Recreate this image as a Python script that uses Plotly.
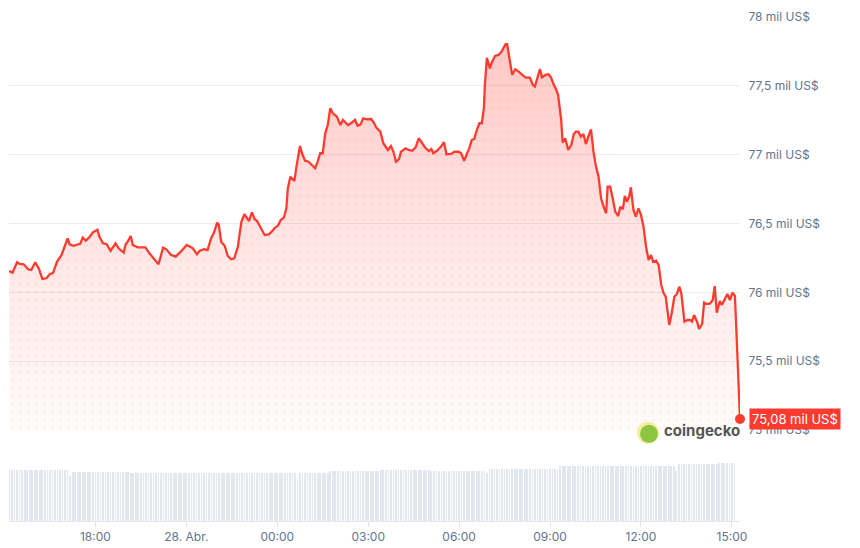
import plotly.graph_objects as go
from datetime import datetime, timedelta

BASE = datetime(2025, 4, 27, 15, 0)

# price: minutes after 27 Apr 15:00, value in US$
price_minutes = [
    9, 16, 25, 30, 38, 47, 53, 61, 68, 75, 83, 90, 96, 104, 113, 119, 125, 129, 137, 146,
    150, 155, 161, 169, 175, 184, 188, 195, 202, 210, 220, 226, 236, 240, 244, 250, 254, 264, 279, 287,
    297, 305, 314, 320, 330, 339, 347, 355, 361, 373, 381, 386, 395, 402, 409, 415, 421, 424, 429, 436,
    442, 449, 455, 462, 469, 475, 484, 490, 495, 500, 507, 515, 523, 529, 536, 541, 547, 553, 558, 561,
    566, 574, 578, 585, 589, 595, 602, 608, 615, 620, 625, 630, 635, 640, 645, 650, 658, 665, 670, 680,
    686, 694, 699, 705, 710, 718, 726, 732, 736, 744, 750, 759, 765, 770, 775, 781, 785, 794, 800, 807,
    814, 820, 827, 833, 840, 845, 849, 856, 863, 870, 875, 884, 891, 899, 904, 910, 916, 920, 925, 930,
    935, 940, 945, 949, 951, 955, 961, 964, 971, 978, 984, 988, 992, 995, 1000, 1005, 1011, 1018, 1025, 1032,
    1040, 1046, 1050, 1055, 1060, 1064, 1071, 1077, 1082, 1087, 1092, 1096, 1098, 1102, 1105, 1110, 1116, 1122, 1127, 1131,
    1136, 1141, 1146, 1151, 1156, 1161, 1166, 1171, 1176, 1181, 1186, 1191, 1194, 1199, 1204, 1209, 1215, 1219, 1224, 1228,
    1232, 1237, 1240, 1245, 1250, 1255, 1260, 1265, 1270, 1275, 1280, 1284, 1290, 1295, 1300, 1305, 1309, 1316, 1321, 1326,
    1331, 1336, 1340, 1346, 1352, 1357, 1361, 1365, 1371, 1375, 1381, 1385, 1390, 1397, 1402, 1406, 1410, 1416, 1420, 1426,
    1431, 1436, 1441, 1446, 1456,
]
price_usd = [
    76155, 76143, 76218, 76206, 76204, 76167, 76162, 76218, 76174, 76097, 76102, 76133, 76140, 76222, 76271, 76331, 76392, 76349, 76338, 76349,
    76352, 76397, 76375, 76404, 76436, 76455, 76404, 76356, 76351, 76302, 76356, 76320, 76288, 76349, 76368, 76409, 76344, 76327, 76327, 76283,
    76235, 76204, 76324, 76314, 76271, 76259, 76288, 76324, 76344, 76320, 76276, 76300, 76313, 76307, 76392, 76436, 76506, 76494, 76368, 76338,
    76264, 76240, 76247, 76331, 76513, 76567, 76518, 76581, 76533, 76518, 76469, 76416, 76421, 76440, 76472, 76482, 76525, 76542, 76610, 76756,
    76840, 76809, 76913, 77063, 77010, 76956, 76949, 76925, 76901, 76949, 77010, 77010, 77155, 77215, 77337, 77300, 77276, 77215, 77252, 77215,
    77228, 77252, 77210, 77220, 77264, 77257, 77259, 77228, 77196, 77167, 77083, 77034, 77063, 77021, 76949, 76968, 77021, 77046, 77034, 77028,
    77053, 77119, 77082, 77050, 77026, 77041, 77010, 77028, 77053, 77090, 77003, 77005, 77021, 77021, 77010, 76956, 77010, 77046, 77106, 77114,
    77179, 77228, 77228, 77337, 77506, 77704, 77627, 77664, 77717, 77724, 77748, 77773, 77802, 77802, 77700, 77579, 77620, 77603, 77579, 77559,
    77559, 77506, 77494, 77566, 77622, 77562, 77579, 77584, 77559, 77511, 77475, 77433, 77361, 77252, 77087, 77119, 77034, 77070, 77150, 77167,
    77167, 77130, 77150, 77077, 77135, 77184, 77021, 76913, 76840, 76683, 76622, 76574, 76767, 76767, 76683, 76586, 76554, 76622, 76603, 76700,
    76658, 76700, 76763, 76598, 76549, 76610, 76562, 76477, 76331, 76235, 76271, 76222, 76230, 76198, 76053, 75993, 75968, 75763, 75852, 75968,
    75988, 76041, 75988, 75787, 75799, 75799, 75787, 75835, 75787, 75734, 75770, 75925, 75915, 75920, 75944, 76046, 75852, 75937, 75908, 75949,
    75988, 75944, 75997, 75973, 75080,
]

# 24h volume (billion US$), one bar every 5 minutes
vol_minutes = list(range(10, 1450, 5))
volume_bn = [
    34.0, 34.0, 34.0, 34.0, 34.0, 34.0, 34.0, 34.0, 34.0, 34.0, 34.0, 34.0,
    34.0, 34.0, 34.0, 34.0, 34.0, 34.0, 34.0, 34.0, 34.0, 34.0, 34.0, 34.0,
    30.0,
    32.4, 32.4, 32.4, 32.4, 32.4, 32.4, 32.4, 32.4, 32.4, 32.4, 32.4, 32.4,
    32.4, 32.4, 32.4, 32.4, 32.4, 32.4, 32.4, 32.4, 32.4, 32.4, 32.4,
    32.0, 32.0, 32.0, 32.0, 32.0, 32.0, 32.0, 32.0, 32.0, 32.0, 32.0, 32.0,
    32.0, 32.0, 32.0, 32.0, 32.0, 32.0, 32.0, 32.0, 32.0, 32.0, 32.0, 32.0,
    32.0, 32.0, 32.0, 32.0, 32.0, 32.0, 32.0, 32.0, 32.0, 32.0, 32.0, 32.0,
    32.0, 32.0, 32.0, 32.0, 32.0, 32.0, 32.0, 32.0, 32.0, 32.0, 32.0, 32.0,
    32.0, 32.0, 32.0, 32.0, 32.0, 32.0, 32.0, 32.0, 32.0, 32.0, 32.0, 32.0,
    32.0, 32.0, 32.0, 32.0, 32.0, 32.0,
    28.7,
    31.8, 31.8, 31.8, 31.8, 31.8, 31.8, 31.8, 31.8, 31.8, 31.8, 31.8, 31.8,
    33.0, 33.0, 33.0, 33.0, 33.0, 33.0, 33.0, 33.0, 33.0, 33.0,
    33.2, 33.2, 33.2, 33.2, 33.2, 33.2, 33.2, 33.2, 33.2, 33.2,
    33.6, 33.6, 33.6, 33.6, 33.6, 33.6, 33.6, 33.6, 33.6, 33.6,
    34.0, 34.0, 34.0, 34.0, 34.0, 34.0, 34.0, 34.0, 34.0, 34.0,
    33.3, 33.3, 33.3, 33.3, 33.3, 33.3, 33.3, 33.3, 33.3, 33.3, 33.3,
    33.3, 33.3, 33.3, 33.3, 33.3, 33.3, 33.3, 33.3, 33.3, 33.3, 33.3,
    31.8,
    34.7, 34.7, 34.7, 34.7, 34.7, 34.7, 34.7, 34.7, 34.7, 34.7, 34.7, 34.7, 34.7, 34.7,
    34.7, 34.7, 34.7, 34.7, 34.7, 34.7, 34.7, 34.7, 34.7, 34.7, 34.7, 34.7, 34.7, 34.7,
    36.2, 36.2, 36.2, 36.2, 36.2, 36.2, 36.2, 36.2, 36.2, 36.2, 36.2, 36.2,
    36.2, 36.2, 36.2, 36.2, 36.2, 36.2, 36.2, 36.2, 36.2, 36.2, 36.2, 36.2,
    36.7, 36.7, 36.7, 36.7, 36.7, 36.7, 36.7, 36.7, 36.7, 36.7, 36.7,
    36.7, 36.7, 36.7, 36.7, 36.7, 36.7, 36.7, 36.7, 36.7, 36.7, 36.7,
    33.5,
    37.8, 37.8, 37.8, 37.8, 37.8, 37.8, 37.8, 37.8,
    37.8, 37.8, 37.8, 37.8, 37.8, 37.8, 37.8, 37.8,
    38.5, 38.5, 38.5, 38.5, 38.5, 38.5, 38.5,
]

y_tick_vals = [75000, 75500, 76000, 76500, 77000, 77500, 78000]
y_tick_text = ["75 mil US$", "75,5 mil US$", "76 mil US$", "76,5 mil US$",
               "77 mil US$", "77,5 mil US$", "78 mil US$"]
x_tick_minutes = [180, 360, 540, 720, 900, 1080, 1260, 1440]
x_tick_text = ["18:00", "28. Abr.", "00:00", "03:00", "06:00", "09:00", "12:00", "15:00"]
last_label = "75,08 mil US$"

RED = "#ff3b30"
FONT = "Inter"
LABEL = "#64748b"

t_price = [BASE + timedelta(minutes=m) for m in price_minutes]
t_vol = [BASE + timedelta(minutes=m) for m in vol_minutes]
t_ticks = [BASE + timedelta(minutes=m) for m in x_tick_minutes]

fig = go.Figure()

fig.add_trace(go.Bar(
    x=t_vol, y=volume_bn, yaxis="y2", xaxis="x",
    marker=dict(color="#e2e7ef", line=dict(width=0)),
    width=85000, hoverinfo="skip", showlegend=False,
))

fig.add_trace(go.Scatter(
    x=t_price, y=price_usd, mode="lines", line=dict(width=0),
    fill="tozeroy",
    fillgradient=dict(type="vertical",
                      colorscale=[[0, "rgba(255,59,48,0.02)"], [0.5, "rgba(255,59,48,0.14)"], [1, "rgba(255,59,48,0.30)"]],
                      start=75000, stop=78000),
    hoverinfo="skip", showlegend=False,
))

fig.add_trace(go.Scatter(
    x=t_price, y=price_usd, mode="lines",
    line=dict(color=RED, width=2.3),
    fill="tozeroy", fillcolor="rgba(0,0,0,0)",
    fillpattern=dict(shape=".", size=8, solidity=0.06, fgcolor="rgba(255,59,48,0.10)",
                     bgcolor="rgba(0,0,0,0)", fillmode="replace"),
    showlegend=False,
))

fig.add_trace(go.Scatter(
    x=[t_price[-1]], y=[price_usd[-1]], mode="markers",
    marker=dict(size=10, color=RED), cliponaxis=False, showlegend=False,
))

fig.update_layout(
    width=860, height=548,
    margin=dict(l=9, r=120, t=16, b=27, autoexpand=False),
    paper_bgcolor="white", plot_bgcolor="white",
    font=dict(family=FONT, size=12, color=LABEL),
    bargap=0,
    xaxis=dict(
        type="date", anchor="y2", automargin=False,
        range=[BASE + timedelta(minutes=price_minutes[0]), BASE + timedelta(minutes=price_minutes[-1])],
        tickvals=t_ticks, ticktext=x_tick_text,
        showgrid=False, zeroline=False,
        showline=True, linecolor="#e5e9ef", linewidth=1,
        ticks="outside", ticklen=5, tickcolor="#dfe4ea",
        tickfont=dict(family=FONT, size=12, color=LABEL),
    ),
    yaxis=dict(
        domain=[0.17883, 1], range=[74995, 78007], side="right", anchor="x", automargin=False,
        tickvals=y_tick_vals, ticktext=y_tick_text,
        showgrid=True, gridcolor="#ececec", gridwidth=1,
        zeroline=False, showline=False,
        ticks="outside", ticklen=5, tickcolor="rgba(0,0,0,0)",
        tickfont=dict(family=FONT, size=12, color=LABEL),
    ),
    yaxis2=dict(
        domain=[0, 0.16], range=[0, 53.86], anchor="x", automargin=False,
        showgrid=False, zeroline=False, showticklabels=False, showline=False,
    ),
    showlegend=False,
)

# last price badge
fig.add_annotation(
    x=1, xref="paper", xanchor="left", xshift=9,
    y=price_usd[-1], yref="y", yanchor="middle",
    text=last_label, showarrow=False,
    bgcolor=RED, borderpad=2,
    font=dict(family=FONT, size=13, color="white"),
)

# coingecko watermark
fig.add_shape(type="circle", xref="paper", yref="paper",
              x0=0.8591, x1=0.8892, y0=0.1528, y1=0.1964,
              fillcolor="#f8ec9a", line=dict(width=0), layer="above")
fig.add_shape(type="circle", xref="paper", yref="paper",
              x0=0.8632, x1=0.8878, y0=0.1548, y1=0.1905,
              fillcolor="#8dc641", line=dict(width=0), layer="above")
fig.add_annotation(
    x=0.948, xref="paper", xanchor="center",
    y=0.1786, yref="paper", yanchor="middle",
    text="<b>coingecko</b>", showarrow=False,
    font=dict(family=FONT, size=15, color="#555555"),
)

fig.write_html(
    "out.html",
    config={"displayModeBar": False},
    post_script="document.body.style.margin='0';document.body.style.overflow='hidden';",
)
